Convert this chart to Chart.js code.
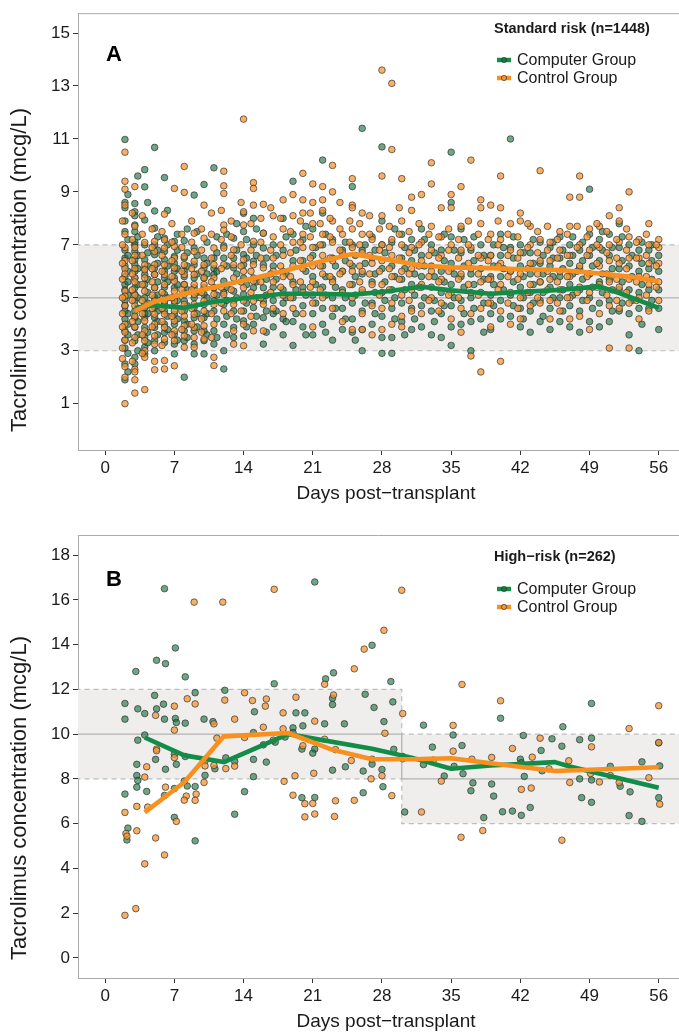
<!DOCTYPE html>
<html>
<head>
<meta charset="utf-8">
<script src="https://cdn.jsdelivr.net/npm/chart.js@4.4.0/dist/chart.umd.min.js"></script>
<style>
  html, body { margin: 0; padding: 0; background: #fff; }
  .panel { position: absolute; left: 0; width: 679px; height: 517px; }
  #panelA { top: 0; }
  #panelB { top: 517px; }
</style>
</head>
<body>
<div class="panel" id="panelA"><canvas id="chartA" width="679" height="517"></canvas></div>
<div class="panel" id="panelB"><canvas id="chartB" width="679" height="517"></canvas></div>
<script>
// ---- data ----
const xTicks = [0, 7, 14, 21, 28, 35, 42, 49, 56];
const yTicksA = [1, 3, 5, 7, 9, 11, 13, 15];
const yTicksB = [0, 2, 4, 6, 8, 10, 12, 14, 16, 18];

// target ranges (mcg/L)
const bandDaysA = [-3, 59];
const bandLowA = [3, 3];
const bandMidA = [5, 5];
const bandHighA = [7, 7];
const bandDaysB = [-3, 30, 59];
const bandLowB = [8, 6, 6];
const bandMidB = [10, 8, 8];
const bandHighB = [12, 10, 10];

// Panel A: measured levels by day (Computer Group)
const compA = {
  2: [10.98, 8.6, 8.4, 7.9, 7.5, 6.8, 6.5, 6.2, 5.8, 5.5, 5.3, 4.9, 4.7, 4.5, 4.2, 3.75, 3.4, 3.1, 2.5, 1.9],
  3: [8.56, 8.25, 8.1, 7.75, 7.5, 7.1, 7.0, 6.75, 6.44, 6.25, 6.0, 5.75, 5.38, 5.13, 4.88, 4.5, 4.25, 3.88, 3.38, 2.75, 2.5],
  4: [9.84, 9.19, 7.94, 7.0, 6.44, 6.1, 5.88, 5.5, 5.0, 4.63, 4.4, 4.25, 3.88, 3.5, 3.13, 2.88],
  5: [10.68, 8.28, 7.63, 7.0, 6.63, 6.13, 5.88, 5.38, 5.0, 4.8, 4.63, 4.25, 3.88, 3.38, 3.0],
  6: [9.54, 7.25, 6.75, 6.44, 6.0, 5.75, 5.4, 5.13, 4.75, 4.5, 4.0, 3.69, 3.31],
  7: [7.13, 6.56, 6.3, 6.0, 5.75, 5.38, 5.0, 4.75, 4.38, 4.0, 3.63, 3.25, 2.88],
  8: [7.16, 6.5, 6.0, 5.8, 5.5, 5.19, 4.88, 4.5, 4.13, 3.75, 3.38, 2.0],
  9: [8.88, 6.88, 6.25, 5.75, 5.38, 5.0, 4.63, 4.25, 3.75, 3.25, 2.88],
  10: [9.28, 6.5, 6.13, 5.75, 5.38, 5.13, 4.75, 4.25, 3.75, 3.38, 2.88],
  11: [9.91, 6.5, 6.1, 5.88, 5.38, 4.88, 4.5, 3.75, 3.25],
  12: [6.96, 6.5, 5.63, 5.2, 4.75, 4.0, 3.0, 2.31],
  13: [7.25, 6.5, 6.13, 5.25, 4.9, 4.5, 3.88, 3.5],
  14: [8.19, 7.5, 6.63, 6.25, 5.75, 5.13, 4.5, 4.13, 3.56],
  15: [8.0, 7.0, 6.38, 5.75, 5.38, 4.63, 4.0],
  16: [7.44, 6.88, 6.25, 5.38, 4.88, 4.25, 3.25],
  17: [7.0, 6.2, 5.4, 4.9, 4.4, 3.9],
  18: [8.0, 6.8, 6.0, 5.3, 4.8, 4.2, 3.6],
  19: [9.4, 7.4, 6.4, 5.6, 5.0, 4.1, 3.2],
  20: [7.2, 6.4, 5.4, 4.7, 3.9],
  21: [7.6, 6.6, 5.8, 5.1, 4.4, 3.6],
  22: [10.2, 8.2, 7.0, 6.2, 5.4, 4.6, 4.0],
  23: [7.2, 6.5, 5.7, 5.0, 4.3, 3.4],
  24: [6.8, 6.0, 5.3, 4.6, 3.8],
  25: [9.2, 7.0, 6.2, 5.5, 4.8, 4.2, 3.7],
  26: [11.4, 6.8, 5.9, 5.2, 4.5, 3.8, 3.0],
  27: [7.3, 6.5, 5.6, 4.8, 4.0],
  28: [10.7, 7.9, 7.0, 6.1, 5.2, 4.3, 3.5, 2.9],
  29: [7.1, 6.2, 5.3, 4.6, 3.5, 2.9],
  30: [7.4, 6.5, 5.7, 4.8, 4.1],
  31: [7.2, 6.4, 5.5, 4.6, 3.8],
  32: [7.6, 6.6, 5.8, 5.4, 4.7, 3.9],
  33: [7.0, 6.2, 5.4, 4.5, 3.6],
  34: [6.8, 6.0, 5.2, 4.4, 3.5],
  35: [10.5, 8.6, 7.3, 6.3, 5.5, 4.7, 3.9, 3.2],
  36: [7.6, 6.7, 5.8, 4.9, 4.0],
  37: [6.8, 5.9, 5.0, 4.1, 3.0],
  38: [7.0, 6.1, 5.2, 4.2],
  39: [6.6, 5.8, 5.1, 4.4, 3.8],
  40: [7.4, 6.6, 5.8, 4.9, 4.2],
  41: [11.0, 6.9, 6.0, 5.1, 4.3],
  42: [7.0, 6.2, 5.4, 4.6, 3.9],
  43: [6.7, 5.9, 5.2, 4.5, 3.7],
  44: [7.1, 6.3, 5.6, 4.9, 4.1],
  45: [6.9, 6.2, 5.4, 4.6, 3.8],
  46: [7.3, 6.5, 5.8, 5.0, 4.1],
  47: [7.0, 6.3, 5.5, 4.7, 3.9],
  48: [6.8, 6.1, 5.3, 4.5, 3.7],
  49: [9.1, 7.4, 6.6, 5.9, 5.0, 4.1],
  50: [7.2, 6.4, 5.6, 4.8, 3.9],
  51: [7.4, 6.6, 5.7, 4.9, 4.1],
  52: [7.8, 6.9, 6.1, 5.3, 4.5],
  53: [7.0, 6.2, 5.3, 4.4, 3.6],
  54: [6.8, 6.0, 5.2, 4.6, 3.0],
  55: [6.8, 6.1, 5.3, 4.6],
  56: [6.6, 6.0, 5.3, 4.6, 3.8]
};
// second sweep: points sitting right of each day column
const compAx = {
  2.3: [8.9, 7.2, 6.6, 6.0, 5.6, 5.1, 4.4, 4.0, 3.6, 2.9, 2.2],
  3.3: [9.6, 7.3, 6.6, 6.1, 5.5, 5.0, 4.6, 4.1, 3.6, 3.0],
  4.3: [8.6, 6.7, 6.2, 5.7, 5.2, 4.8, 4.4, 3.7, 3.3],
  5.3: [7.3, 6.8, 6.3, 5.6, 5.1, 4.5, 4.1, 3.6],
  6.3: [8.3, 7.0, 6.2, 5.6, 5.0, 4.3, 3.8],
  7.3: [7.4, 6.8, 6.1, 5.5, 4.9, 4.2, 3.4],
  8.3: [7.6, 6.7, 6.2, 5.3, 4.7, 4.0, 3.5],
  9.3: [7.5, 6.6, 5.9, 5.2, 4.4, 3.9],
  10.3: [7.1, 6.3, 5.9, 5.0, 4.4, 3.6],
  11.3: [7.3, 6.7, 6.0, 5.1, 4.2, 3.5],
  12.3: [7.4, 6.2, 5.4, 4.9, 4.3, 3.6],
  13.3: [7.8, 6.8, 5.9, 5.0, 4.2],
  14.3: [7.2, 6.5, 5.5, 4.8, 3.9],
  15.3: [7.6, 6.6, 5.6, 5.0, 4.3],
  16.3: [6.5, 5.7, 5.1, 4.5, 3.7],
  17.3: [6.6, 5.7, 4.5],
  18.3: [7.3, 5.9, 5.0, 4.1],
  19.3: [6.8, 5.3, 4.4],
  20.3: [7.7, 6.0, 5.1, 3.6],
  21.3: [6.9, 5.5, 4.8],
  22.3: [7.4, 5.8, 5.1, 3.7],
  23.3: [6.2, 5.4, 4.6],
  24.3: [7.1, 6.4, 5.0, 4.2],
  25.3: [6.6, 5.8, 5.1, 3.4],
  26.3: [7.0, 6.3, 4.8],
  27.3: [6.8, 5.9, 5.2, 4.4],
  28.3: [6.7, 5.6, 4.9],
  29.3: [7.6, 5.8, 5.0, 4.2],
  30.3: [6.9, 6.1, 5.3, 3.6],
  31.3: [6.8, 5.9, 5.1, 4.2],
  32.3: [7.2, 6.2, 5.0],
  33.3: [6.7, 5.8, 4.9, 4.1],
  34.3: [7.4, 6.4, 5.6, 4.7],
  35.3: [6.8, 5.9, 5.0],
  36.3: [7.2, 6.2, 5.4, 4.4],
  37.3: [7.3, 6.4, 5.5, 4.6],
  38.3: [6.6, 5.7, 4.8, 3.7],
  39.3: [7.0, 6.2, 5.5, 4.7],
  40.3: [6.9, 6.1, 5.3],
  41.3: [7.3, 6.5, 5.6, 4.7],
  42.3: [6.7, 5.8, 5.0, 4.2],
  43.3: [7.2, 6.3, 5.5, 4.8],
  44.3: [6.6, 5.9, 5.2, 4.3],
  45.3: [7.1, 6.5, 5.8, 5.0],
  46.3: [6.8, 6.1, 5.3, 4.5],
  47.3: [7.3, 6.6, 5.9, 5.1],
  48.3: [7.1, 6.4, 5.7, 4.9],
  49.3: [6.9, 6.2, 5.4, 4.6],
  50.3: [7.5, 6.8, 5.9, 5.2],
  51.3: [6.9, 6.1, 5.3, 4.5],
  52.3: [7.3, 6.4, 5.6, 4.8],
  53.3: [6.6, 5.8, 4.9],
  54.3: [7.1, 6.3, 5.5, 4.0],
  55.3: [7.0, 6.4, 5.7, 4.9]
};

// Panel A: measured levels by day (Control Group)
const ctrlA = {
  2: [10.5, 9.4, 9.1, 8.5, 7.4, 6.9, 6.4, 6.1, 5.9, 5.25, 5.06, 4.7, 4.0, 3.7, 3.4, 2.4, 2.0, 1.0],
  3: [9.2, 7.7, 6.9, 6.6, 6.1, 5.75, 5.6, 5.1, 4.7, 4.3, 3.9, 3.5, 2.3, 2.2, 1.9, 1.4],
  4: [7.09, 6.25, 6.06, 5.75, 5.25, 4.75, 4.13, 3.75, 3.38, 3.0, 2.75, 1.53],
  5: [7.13, 6.75, 6.25, 5.88, 5.38, 4.88, 4.38, 4.0, 3.56, 3.25, 2.6, 2.28],
  6: [8.16, 7.19, 6.88, 6.25, 5.88, 5.5, 4.88, 4.38, 3.88, 3.44, 2.63, 2.31],
  7: [9.13, 6.94, 6.5, 6.13, 5.63, 5.25, 4.88, 4.5, 4.13, 3.75, 3.38, 2.43],
  8: [9.96, 8.98, 6.56, 6.25, 5.88, 5.5, 5.13, 4.75, 4.31, 3.94, 3.56, 3.13],
  9: [7.44, 6.75, 6.38, 5.88, 5.5, 5.13, 4.75, 4.38, 3.88, 3.5, 3.13],
  10: [8.5, 7.25, 6.25, 5.75, 5.5, 4.88, 4.5, 3.94, 3.44],
  11: [6.88, 6.25, 5.75, 5.38, 5.13, 4.75, 4.0, 2.75, 2.44],
  12: [9.78, 9.23, 8.94, 7.75, 7.56, 6.88, 6.25, 5.13, 4.5],
  13: [6.81, 6.25, 5.75, 4.75, 3.75, 3.25],
  14: [11.75, 8.25, 7.75, 6.44, 6.0, 5.38, 4.88, 4.0, 3.19],
  15: [9.35, 9.13, 8.5, 7.13, 6.25, 5.63, 4.88, 3.75],
  16: [8.53, 7.44, 6.13, 4.75, 3.75],
  17: [8.1, 7.3, 6.5, 6.0, 5.6, 4.6],
  18: [8.7, 7.6, 6.6, 5.8, 5.1, 4.4],
  19: [8.9, 8.1, 7.1, 6.2, 5.5, 4.6],
  20: [9.7, 8.7, 8.2, 7.4, 6.9, 6.1, 5.2, 4.4],
  21: [9.3, 8.6, 7.8, 6.9, 6.2, 5.6, 4.8, 3.9],
  22: [9.2, 8.7, 8.3, 7.4, 6.6, 5.9, 5.0],
  23: [10.0, 9.0, 7.9, 7.1, 6.4, 5.6, 4.6],
  24: [7.4, 6.7, 6.0, 5.2, 4.1],
  25: [9.5, 8.5, 8.4, 7.6, 6.9, 6.0, 5.0, 3.8],
  26: [8.2, 7.4, 6.7, 6.0, 5.3, 4.4, 3.8],
  27: [7.2, 6.3, 5.5, 4.7, 3.6],
  28: [13.6, 9.6, 8.1, 7.0, 6.4, 5.5, 4.6, 3.8],
  29: [13.1, 10.6, 7.2, 6.6, 5.8, 4.8, 4.0],
  30: [9.5, 7.9, 7.0, 6.0, 5.1, 4.3, 3.9],
  31: [8.8, 8.3, 6.9, 6.1, 5.3, 4.5],
  32: [8.9, 7.1, 6.4, 5.5, 4.4],
  33: [10.1, 9.3, 7.7, 6.8, 6.0, 5.0],
  34: [8.4, 7.3, 6.6, 5.7, 4.8],
  35: [8.9, 8.4, 7.0, 6.1, 5.2, 4.2],
  36: [9.2, 7.7, 6.8, 5.9, 4.6, 3.7],
  37: [10.2, 6.9, 6.1, 5.2, 4.4, 2.8],
  38: [8.7, 8.4, 7.8, 6.5, 5.6, 4.6, 2.2],
  39: [8.5, 7.4, 6.6, 5.7, 4.8, 3.9],
  40: [9.6, 8.4, 7.2, 6.3, 5.5, 4.5, 2.6],
  41: [7.8, 6.8, 6.0, 5.2, 4.0],
  42: [8.2, 7.9, 6.7, 5.9, 5.0, 4.2],
  43: [7.7, 7.0, 6.3, 5.5, 4.7],
  44: [9.8, 7.2, 6.4, 5.6, 4.8],
  45: [7.1, 6.4, 5.7, 4.9, 4.2],
  46: [7.5, 6.8, 6.0, 5.3, 4.5],
  47: [8.8, 7.7, 6.6, 5.8, 5.0, 4.2],
  48: [9.6, 8.8, 7.0, 6.2, 5.4, 4.3],
  49: [7.6, 6.8, 5.9, 5.2, 3.8],
  50: [7.7, 6.9, 6.2, 5.5, 4.4],
  51: [8.1, 7.0, 6.4, 5.6, 4.7, 3.1],
  52: [8.4, 7.9, 7.1, 6.3, 5.4, 4.6],
  53: [9.0, 7.3, 6.5, 5.7, 4.8, 3.1],
  54: [7.2, 6.5, 5.8, 5.0, 4.2],
  55: [7.8, 7.0, 6.3, 5.5, 4.5],
  56: [7.2, 6.9, 6.3, 5.6, 4.9]
};
// second sweep: points sitting left of each day column
const ctrlAx = {
  1.75: [7.9, 7.0, 6.3, 5.7, 5.0, 4.4, 3.9, 3.1, 2.7],
  2.75: [8.2, 7.2, 6.4, 5.9, 5.3, 4.9, 4.1, 3.3, 2.6],
  3.75: [8.1, 7.4, 6.6, 5.5, 4.9, 4.4, 3.6, 2.9],
  4.75: [7.6, 6.9, 6.1, 5.6, 5.1, 4.6, 3.9],
  5.75: [7.5, 6.6, 6.0, 5.2, 4.6, 4.1, 3.2],
  6.75: [7.8, 7.1, 6.4, 5.8, 5.0, 4.3, 3.6],
  7.75: [7.4, 6.9, 6.0, 5.3, 4.5, 3.8],
  8.75: [7.9, 7.1, 6.1, 5.3, 4.6, 4.0],
  9.75: [7.6, 6.8, 6.0, 5.2, 4.2, 3.7],
  10.75: [8.2, 7.4, 6.5, 5.6, 4.4, 3.5],
  11.75: [8.3, 7.2, 6.1, 5.4, 4.8],
  12.75: [7.9, 7.3, 6.6, 5.3, 4.4],
  13.75: [8.6, 7.0, 6.2, 5.6, 4.5],
  14.75: [7.8, 6.8, 6.0, 5.2, 4.3],
  15.75: [8.0, 7.1, 6.5, 5.6, 5.0],
  16.75: [8.4, 6.8, 5.9, 5.2],
  17.75: [8.0, 7.0, 6.2, 5.4],
  18.75: [7.5, 6.7, 5.8, 5.0],
  19.75: [7.9, 7.1, 6.4, 5.6],
  20.75: [8.2, 7.3, 6.5, 5.4],
  21.75: [7.8, 7.0, 6.2, 5.3],
  22.75: [8.0, 7.3, 6.5, 5.8],
  23.75: [8.6, 7.6, 6.8, 5.9],
  24.75: [7.9, 7.1, 6.3, 5.5],
  25.75: [7.8, 7.0, 6.2, 5.6],
  26.75: [8.1, 7.4, 6.6, 5.9],
  27.75: [7.6, 6.8, 6.0, 5.1],
  28.75: [7.7, 6.9, 6.1, 5.3],
  29.75: [8.4, 7.4, 6.5, 5.7],
  30.75: [7.5, 6.7, 5.9, 4.9],
  31.75: [7.8, 7.0, 6.2, 5.4],
  32.75: [7.4, 6.6, 5.8, 4.9],
  33.75: [7.3, 6.5, 5.6, 4.5],
  34.75: [7.6, 6.8, 6.0, 5.1],
  35.75: [7.2, 6.5, 5.7, 5.0],
  36.75: [7.9, 7.0, 6.3, 5.5],
  37.75: [7.4, 6.6, 5.9, 5.1],
  38.75: [7.2, 6.4, 5.7, 4.8],
  39.75: [7.9, 7.0, 6.2, 5.3],
  40.75: [7.4, 6.6, 5.8, 4.8],
  41.75: [7.3, 6.5, 5.7, 4.6],
  42.75: [7.8, 6.9, 6.1, 5.2],
  43.75: [7.5, 6.7, 5.9, 5.0],
  44.75: [7.7, 6.8, 6.0, 5.3],
  45.75: [7.2, 6.5, 5.6, 4.8],
  46.75: [7.4, 6.6, 5.8, 5.0],
  47.75: [7.7, 6.9, 6.0, 5.2],
  48.75: [7.3, 6.6, 5.8, 4.9],
  49.75: [7.8, 7.0, 6.3, 5.4],
  50.75: [7.5, 6.7, 5.9, 5.1],
  51.75: [7.2, 6.5, 5.7, 4.9],
  52.75: [7.6, 6.8, 6.1, 5.2],
  53.75: [7.1, 6.5, 5.6, 4.9],
  54.75: [7.4, 6.6, 5.8, 5.1],
  55.75: [7.0, 6.2, 5.4]
};

// Panel A: group mean lines
const compLineDaysA = [3, 5, 8, 11, 14, 18, 21, 25, 28, 32, 35, 39, 42, 46, 50, 52, 56];
const compLineA = [4.62, 4.72, 4.62, 4.85, 4.98, 5.15, 5.15, 5.12, 5.22, 5.42, 5.28, 5.15, 5.22, 5.3, 5.43, 5.18, 4.62];
const ctrlLineDaysA = [3, 5, 8, 11, 14, 18, 21, 25, 28, 32, 35, 39, 42, 46, 50, 53, 56];
const ctrlLineA = [4.5, 4.85, 5.15, 5.4, 5.65, 6.0, 6.3, 6.65, 6.48, 6.22, 6.15, 6.12, 6.08, 6.05, 5.92, 5.8, 5.62];

// Panel B: [day, level] readings
const compB = [
  [6.0, 16.5], [7.1, 13.85], [5.2, 13.3], [6.1, 13.15], [3.1, 12.8], [8.1, 12.56], [12.1, 11.96], [9.1, 11.85],
  [5.0, 11.73], [2.0, 11.37], [5.9, 11.34], [3.3, 11.13], [5.2, 11.13], [4.0, 10.92], [15.1, 11.0], [2.0, 10.67],
  [6.0, 10.67], [7.1, 10.7], [7.2, 10.52], [8.1, 10.49], [10.0, 10.67], [10.9, 10.56], [4.0, 9.96], [3.3, 9.73],
  [15.0, 10.07], [7.0, 9.1], [8.1, 9.0], [5.1, 8.87], [3.2, 8.65], [6.1, 8.43], [7.2, 8.65], [11.1, 8.45],
  [12.2, 8.94], [13.1, 8.78], [15.0, 8.87], [3.2, 8.15], [3.3, 7.93], [10.1, 8.16], [15.0, 8.1], [8.0, 7.9],
  [3.2, 7.63], [7.0, 7.57], [8.3, 7.68], [9.1, 7.66], [4.2, 7.44], [14.1, 7.43], [2.0, 7.32], [6.0, 7.26],
  [13.1, 6.42], [7.0, 6.28], [2.3, 5.8], [2.2, 5.27], [9.1, 5.23],
  [21.2, 16.8], [27.0, 13.97], [23.1, 12.74], [22.3, 12.47], [17.1, 12.25], [28.9, 12.35], [23.0, 11.6], [23.0, 11.32],
  [26.3, 11.78], [29.1, 11.44], [27.2, 11.19], [19.3, 10.95], [20.2, 10.95], [22.2, 10.46], [24.2, 10.46], [28.2, 10.56],
  [20.0, 10.37], [19.0, 10.28], [19.0, 10.07], [17.2, 9.64], [16.0, 9.52], [18.2, 9.87], [19.9, 9.33], [21.2, 9.33],
  [21.0, 9.15], [29.2, 9.32], [16.3, 8.75], [27.0, 8.66], [30.1, 9.0], [24.3, 8.54], [23.0, 8.39], [26.1, 8.35],
  [28.0, 8.42], [28.1, 7.65], [19.9, 7.16], [21.2, 7.17], [26.1, 7.38], [30.3, 6.52], [32.2, 10.4], [33.1, 9.42],
  [32.2, 8.64],
  [49.2, 11.37], [40.0, 10.71], [35.2, 9.96], [46.3, 10.33], [42.3, 9.94], [45.2, 9.79], [48.0, 9.75], [49.2, 9.82],
  [56.0, 9.61], [36.1, 9.49], [46.2, 9.46], [44.1, 9.27], [42.0, 8.88], [42.1, 8.72], [54.3, 8.76], [35.3, 8.56],
  [36.2, 8.23], [44.2, 8.36], [51.1, 8.56], [56.1, 8.58], [34.3, 8.13], [37.2, 7.82], [39.1, 7.77], [42.4, 8.11],
  [48.0, 8.0], [49.2, 7.95], [52.1, 7.67], [37.0, 7.47], [39.3, 7.23], [53.1, 7.42], [48.2, 7.16], [49.2, 6.95],
  [56.0, 7.16], [40.2, 6.53], [41.2, 6.56], [42.1, 6.37], [43.0, 6.72], [38.3, 6.27], [53.0, 6.36], [54.3, 6.1]
];
const ctrlB = [
  [9.0, 15.9], [11.9, 15.9], [14.1, 11.85], [8.3, 11.58], [12.1, 11.52], [14.9, 11.5], [7.0, 11.25], [9.1, 11.35],
  [5.1, 10.84], [11.0, 10.46], [13.1, 10.67], [7.0, 10.18], [11.3, 9.82], [14.1, 9.85], [5.2, 9.33], [5.2, 9.26],
  [7.0, 8.95], [4.2, 8.54], [10.1, 8.8], [10.1, 8.58], [11.0, 8.6], [12.2, 8.46], [13.1, 8.57], [4.0, 8.08],
  [10.0, 7.84], [6.1, 7.63], [9.2, 7.32], [8.2, 7.23], [8.0, 7.05], [9.1, 7.04], [3.2, 6.77], [4.3, 6.74],
  [2.0, 6.5], [7.2, 6.1], [3.2, 5.68], [2.1, 5.56], [2.2, 5.44], [5.1, 5.36], [6.0, 4.6], [4.0, 4.2],
  [3.1, 2.2], [2.0, 1.9],
  [17.1, 16.47], [30.0, 16.43], [28.2, 14.64], [26.2, 13.8], [25.2, 12.92], [22.2, 12.23], [23.1, 11.75], [19.3, 11.65],
  [16.3, 11.57], [16.2, 11.25], [18.0, 10.95], [30.1, 10.92], [21.2, 10.58], [16.0, 10.31], [18.0, 10.24], [28.3, 10.04],
  [17.0, 9.73], [22.2, 9.77], [20.0, 9.48], [23.3, 9.31], [24.9, 8.82], [27.0, 8.88], [30.1, 8.9], [21.1, 8.25],
  [28.0, 8.14], [26.9, 8.0], [19.2, 8.14], [18.1, 7.89], [19.0, 7.27], [20.2, 6.89], [21.0, 6.9], [23.3, 7.02],
  [25.2, 7.04], [29.0, 7.25], [20.2, 6.3], [21.2, 6.43], [23.2, 6.32], [32.0, 6.52], [33.2, 8.84],
  [36.1, 12.22], [40.0, 11.49], [56.0, 11.27], [35.2, 10.39], [53.0, 10.25], [44.0, 9.82], [49.2, 9.43], [56.0, 9.62],
  [35.2, 9.24], [41.2, 9.36], [37.1, 8.88], [39.1, 8.96], [43.2, 8.97], [46.9, 8.81], [44.9, 8.45], [49.1, 8.24],
  [51.1, 8.15], [34.0, 7.9], [42.1, 7.53], [43.1, 7.59], [50.0, 7.86], [47.0, 7.84], [52.0, 7.84], [55.0, 8.05],
  [56.1, 6.87], [36.0, 5.39], [38.2, 5.69], [46.2, 5.26]
];

// Panel B: group mean lines
const compLineDaysB = [4, 8, 12, 18.5, 27, 31, 35, 39, 45.5, 47, 56];
const compLineB = [9.85, 9.05, 8.75, 10.0, 9.35, 8.95, 8.45, 8.6, 8.75, 8.55, 7.6];
const ctrlLineDaysB = [4, 8, 12, 18.5, 23, 27, 31, 35, 39, 45.5, 56];
const ctrlLineB = [6.5, 7.85, 9.9, 10.05, 9.3, 8.88, 8.88, 8.92, 8.7, 8.35, 8.52];

// ---- styling ----
const NARROW = "'Liberation Sans Narrow', 'Liberation Sans', Arial, sans-serif";
const SANS = "'Liberation Sans', Arial, sans-serif";
const TEXT = '#1a1a1a';
const GREEN_LINE = '#138c48';
const ORANGE_LINE = '#f7901e';
const GREEN_PT = 'rgba(22, 112, 62, 0.62)';
const ORANGE_PT = 'rgba(246, 150, 52, 0.75)';
const PT_EDGE = 'rgba(45, 45, 45, 0.85)';
const BAND_FILL = '#efeeed';
const BAND_EDGE = '#bdbdbd';
const TARGET = '#b3b3b3';
const Y_TITLE = 'Tacrolimus concentration (mcg/L)';
const X_TITLE = 'Days post−transplant';

function zip(xs, ys) {
  return xs.map((x, i) => ({ x: x, y: ys[i] }));
}
function columnPoints(...groups) {
  const pts = [];
  groups.forEach(cols => {
    Object.keys(cols).forEach(day => cols[day].forEach(v => pts.push({ x: parseFloat(day), y: v })));
  });
  return pts;
}
function pairPoints(pairs) {
  return pairs.map(p => ({ x: p[0], y: p[1] }));
}

// frame top line, axis titles, panel letter and legend box
const panelDecor = {
  id: 'panelDecor',
  afterDatasetsDraw(chart, args, o) {
    const ctx = chart.ctx;
    const a = chart.chartArea;
    ctx.save();
    ctx.strokeStyle = '#aaaaaa';
    ctx.lineWidth = 1;
    ctx.beginPath();
    ctx.moveTo(a.left, a.top + 0.5);
    ctx.lineTo(a.right, a.top + 0.5);
    ctx.stroke();

    ctx.fillStyle = TEXT;
    ctx.textAlign = 'center';
    ctx.textBaseline = 'middle';
    // x title, centred on the full (uncropped) panel
    ctx.font = '19px ' + SANS;
    ctx.fillText(X_TITLE, 386, a.bottom + 43.5);

    // y title, sitting low like the original layout
    ctx.save();
    ctx.translate(20, a.bottom - 180);
    ctx.rotate(-Math.PI / 2);
    ctx.font = '22px ' + SANS;
    ctx.fillText(Y_TITLE, 0, 0);
    ctx.restore();

    ctx.fillStyle = '#000';
    ctx.font = 'bold 22px ' + SANS;
    ctx.fillText(o.letter, o.letterX, o.letterY);

    ctx.textAlign = 'left';
    ctx.font = 'bold 14.5px ' + SANS;
    ctx.fillStyle = TEXT;
    ctx.fillText(o.title, o.legendX - 3, o.titleY);

    ctx.font = '16px ' + SANS;
    o.entries.forEach((e, i) => {
      const y = o.rowY[i];
      ctx.strokeStyle = e.line;
      ctx.lineWidth = 4.5;
      ctx.beginPath();
      ctx.moveTo(o.legendX, y);
      ctx.lineTo(o.legendX + 14, y);
      ctx.stroke();
      ctx.beginPath();
      ctx.arc(o.legendX + 7, y, 2.6, 0, Math.PI * 2);
      ctx.fillStyle = e.fill;
      ctx.fill();
      ctx.lineWidth = 0.8;
      ctx.strokeStyle = PT_EDGE;
      ctx.stroke();
      ctx.fillStyle = TEXT;
      ctx.fillText(e.label, o.legendX + 20, y + 1);
    });
    ctx.restore();
  }
};

function bandSets(days, low, mid, high, stepped) {
  return [
    { data: zip(days, high), showLine: true, stepped: stepped, pointRadius: 0, borderColor: BAND_EDGE,
      borderWidth: 1.2, borderDash: [5, 4], backgroundColor: BAND_FILL, fill: 1, order: 30 },
    { data: zip(days, low), showLine: true, stepped: stepped, pointRadius: 0, borderColor: BAND_EDGE,
      borderWidth: 1.2, borderDash: [5, 4], fill: false, order: 29 },
    { data: zip(days, mid), showLine: true, stepped: stepped, pointRadius: 0, borderColor: TARGET,
      borderWidth: 1.3, fill: false, order: 28 }
  ];
}
function pointSet(pts, fill, order) {
  return { data: pts, showLine: false, pointRadius: 3.3, pointBorderWidth: 0.8,
    pointBackgroundColor: fill, pointBorderColor: PT_EDGE, order: order };
}
function lineSet(pts, color, order) {
  return { data: pts, showLine: true, pointRadius: 0, borderColor: color, borderWidth: 4.6,
    borderJoinStyle: 'round', fill: false, order: order };
}

function makePanel(id, p) {
  new Chart(document.getElementById(id), {
    type: 'scatter',
    data: { datasets: p.datasets },
    options: {
      responsive: false,
      animation: false,
      events: [],
      layout: { autoPadding: false, padding: { top: p.top, right: 0, bottom: 0, left: 0 } },
      plugins: {
        legend: { display: false },
        tooltip: { enabled: false },
        panelDecor: p.decor
      },
      scales: {
        x: {
          type: 'linear', min: -2.75, max: 58.05,
          afterBuildTicks: s => { s.ticks = xTicks.map(v => ({ value: v })); },
          afterFit: s => { s.height = p.xAxisHeight; s.paddingLeft = 0; s.paddingRight = 0; },
          ticks: { color: TEXT, font: { family: NARROW, size: 17 }, padding: 3, maxRotation: 0, autoSkip: false },
          grid: { drawOnChartArea: false, drawTicks: true, tickLength: 5, color: '#333', lineWidth: 1 },
          border: { display: true, color: '#aaaaaa', width: 1 },
          title: { display: false }
        },
        y: {
          type: 'linear', min: p.yMin, max: p.yMax,
          afterBuildTicks: s => { s.ticks = p.yTicks.map(v => ({ value: v })); },
          afterFit: s => { s.width = 78; },
          ticks: { color: TEXT, font: { family: NARROW, size: 17 }, padding: 3 },
          grid: { drawOnChartArea: false, drawTicks: true, tickLength: 5, color: '#333', lineWidth: 1 },
          border: { display: true, color: '#aaaaaa', width: 1 },
          title: { display: false }
        }
      }
    },
    plugins: [panelDecor]
  });
}

const legendEntries = [
  { label: 'Computer Group', line: GREEN_LINE, fill: GREEN_PT },
  { label: 'Control Group', line: ORANGE_LINE, fill: ORANGE_PT }
];

makePanel('chartA', {
  top: 7, yMin: -0.75, yMax: 15.75, yTicks: yTicksA, xAxisHeight: 67,
  datasets: [
    ...bandSets(bandDaysA, bandLowA, bandMidA, bandHighA, false),
    pointSet(columnPoints(compA, compAx), GREEN_PT, 6),
    pointSet(columnPoints(ctrlA, ctrlAx), ORANGE_PT, 5),
    lineSet(zip(compLineDaysA, compLineA), GREEN_LINE, 2),
    lineSet(zip(ctrlLineDaysA, ctrlLineA), ORANGE_LINE, 1)
  ],
  decor: { letter: 'A', letterX: 114, letterY: 55, title: 'Standard risk (n=1448)', titleY: 29,
    legendX: 497, rowY: [60, 78], entries: legendEntries }
});

makePanel('chartB', {
  top: 18, yMin: -0.9, yMax: 18.9, yTicks: yTicksB, xAxisHeight: 56,
  datasets: [
    ...bandSets(bandDaysB, bandLowB, bandMidB, bandHighB, true),
    pointSet(pairPoints(compB), GREEN_PT, 6),
    pointSet(pairPoints(ctrlB), ORANGE_PT, 5),
    lineSet(zip(compLineDaysB, compLineB), GREEN_LINE, 2),
    lineSet(zip(ctrlLineDaysB, ctrlLineB), ORANGE_LINE, 1)
  ],
  decor: { letter: 'B', letterX: 114, letterY: 63, title: 'High−risk (n=262)', titleY: 40,
    legendX: 497, rowY: [72, 90], entries: legendEntries }
});
</script>
</body>
</html>
